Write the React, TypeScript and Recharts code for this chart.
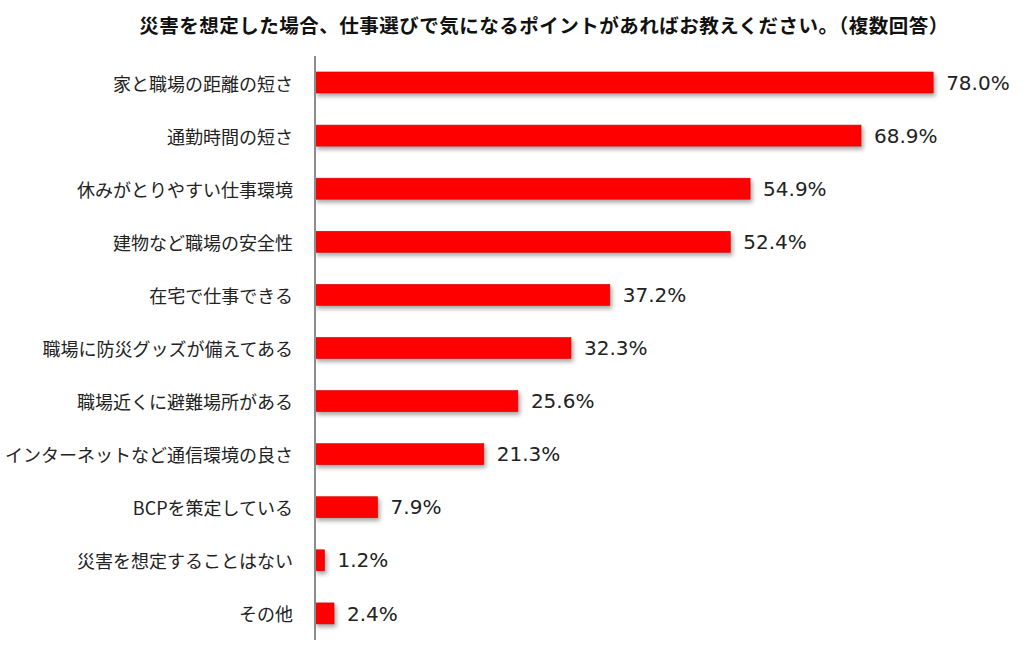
import React from "react"
import { BarChart, Bar, XAxis, YAxis, LabelList } from "recharts"

// ── data ──────────────────────────────────────────────────────────────────────

const TITLE = "災害を想定した場合、仕事選びで気になるポイントがあればお教えください。（複数回答）"

const CATEGORIES = [
  "家と職場の距離の短さ",
  "通勤時間の短さ",
  "休みがとりやすい仕事環境",
  "建物など職場の安全性",
  "在宅で仕事できる",
  "職場に防災グッズが備えてある",
  "職場近くに避難場所がある",
  "インターネットなど通信環境の良さ",
  "BCPを策定している",
  "災害を想定することはない",
  "その他",
]

const VALUES = [78.0, 68.9, 54.9, 52.4, 37.2, 32.3, 25.6, 21.3, 7.9, 1.2, 2.4]

const data = CATEGORIES.map((name, i) => ({ name, value: VALUES[i] }))

// ── styles ────────────────────────────────────────────────────────────────────

const JP_FONT = "'Noto Sans CJK JP', 'Noto Sans', sans-serif"
const NUM_FONT = "'DejaVu Sans', Verdana, sans-serif"

function CategoryTick(props: any) {
  const { x, y, payload } = props
  return (
    <text
      x={x - 14}
      y={y}
      textAnchor="end"
      dominantBaseline="central"
      fontFamily={JP_FONT}
      fontSize={18}
      fill="#222"
    >
      {payload.value}
    </text>
  )
}

function ShadowBar(props: any) {
  const { x, y, width, height } = props
  if (!width || width <= 0) return null
  return (
    <rect
      x={x}
      y={y}
      width={width}
      height={height}
      fill="#ff0000"
      stroke="#d40000"
      strokeWidth={0.6}
      style={{ filter: "drop-shadow(2px 3px 2px rgba(0,0,0,0.35))" }}
    />
  )
}

export default function App() {
  return (
    <div style={{ position: "absolute", left: 0, top: 0, width: 1026, height: 648, background: "#fff" }}>
      <div
        style={{
          position: "absolute",
          left: 0,
          top: 10,
          width: 1088,
          textAlign: "center",
          fontFamily: JP_FONT,
          fontWeight: 700,
          fontSize: 19.5,
          letterSpacing: 0.5,
          color: "#111",
          whiteSpace: "nowrap",
        }}
      >
        {TITLE}
      </div>
      <BarChart
        width={1026}
        height={648}
        data={data}
        layout="vertical"
        margin={{ top: 56, right: 77, bottom: 8, left: 0 }}
        barSize={21}
      >
        <XAxis type="number" domain={[0, 80]} hide />
        <YAxis
          type="category"
          dataKey="name"
          width={315}
          tick={<CategoryTick />}
          tickLine={false}
          axisLine={{ stroke: "#8c8c8c", strokeWidth: 2 }}
          interval={0}
        />
        <Bar dataKey="value" shape={<ShadowBar />} isAnimationActive={false}>
          <LabelList
            dataKey="value"
            position="right"
            offset={13}
            formatter={(v: any) => `${Number(v).toFixed(1)}%`}
            style={{ fontFamily: NUM_FONT, fontSize: 20, fill: "#222" }}
          />
        </Bar>
      </BarChart>
    </div>
  )
}
